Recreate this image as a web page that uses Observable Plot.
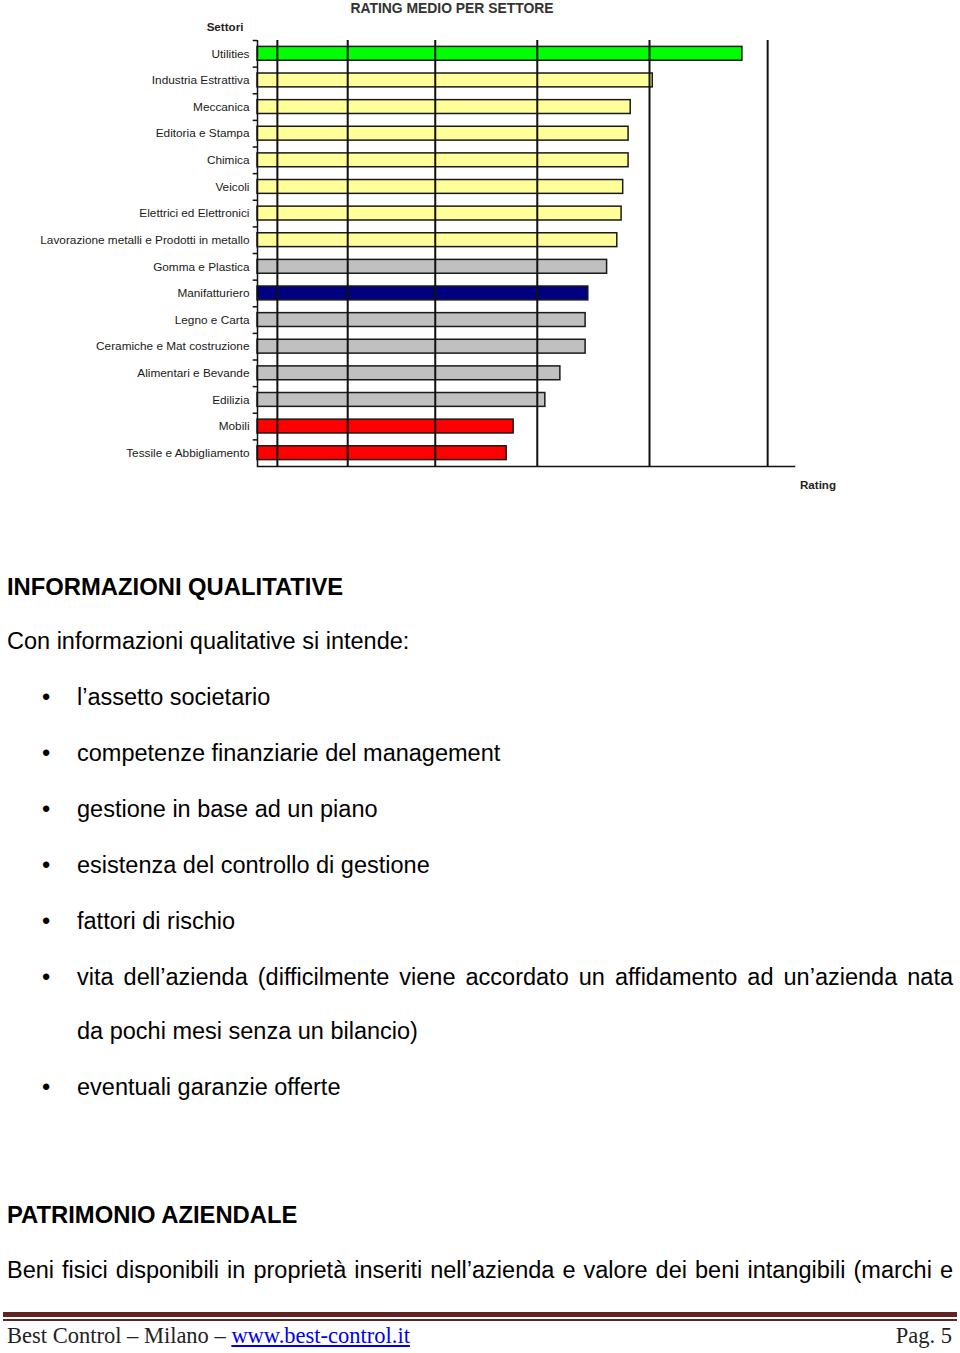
<!DOCTYPE html>
<html><head><meta charset="utf-8">
<script src="https://cdn.jsdelivr.net/npm/d3@7"></script>
<script src="https://cdn.jsdelivr.net/npm/@observablehq/plot@0.6"></script>
<style>
html,body{margin:0;padding:0;background:#fff;}
#page{position:relative;width:960px;height:1353px;overflow:hidden;font-family:"Liberation Sans",Arial,sans-serif;color:#000;}
.t{position:absolute;white-space:nowrap;line-height:1;}
.j{position:absolute;white-space:nowrap;line-height:1;text-align:justify;text-align-last:justify;}
#chart{position:absolute;left:0;top:0;}
</style></head><body><div id="page"><div id="chart"></div></div>
<script>
// ---- data ----
const settori = ["Utilities","Industria Estrattiva","Meccanica","Editoria e Stampa","Chimica","Veicoli","Elettrici ed Elettronici","Lavorazione metalli e Prodotti in metallo","Gomma e Plastica","Manifatturiero","Legno e Carta","Ceramiche e Mat costruzione","Alimentari e Bevande","Edilizia","Mobili","Tessile e Abbigliamento"];
const rating = [90.3,73.6,69.5,69.1,69.1,68.1,67.8,67.0,65.1,61.6,61.1,61.1,56.4,53.6,47.7,46.4];
const fascia = ["migliore","sopra","sopra","sopra","sopra","sopra","sopra","sopra","sotto","media","sotto","sotto","sotto","sotto","peggiore","peggiore"];
const fasce = ["migliore","sopra","media","sotto","peggiore"];
const coloriFasce = ["#00ff00","#ffff99","#000080","#c0c0c0","#ff0000"];
const griglia = [3.7,16.8,33.1,52.1,73.0,95.0];
const titolo = "RATING MEDIO PER SETTORE";
const titoloAsseY = "Settori";
const titoloAsseX = "Rating";

const data = settori.map((s,i)=>({settore:s, rating:rating[i], fascia:fascia[i]}));

const chart = Plot.plot({
  width:960, height:500,
  marginLeft:257, marginRight:166, marginTop:40, marginBottom:34,
  x:{domain:[0,100], axis:null},
  y:{domain:settori, paddingInner:0.48, paddingOuter:0.24, round:false, label:null, axis:null},
  color:{domain:fasce, range:coloriFasce},
  style:{fontFamily:"'Liberation Sans', Arial, sans-serif", fontSize:"11.8px", background:"transparent", color:"#1a1a1a"},
  marks:[
    Plot.barX(data,{x:"rating",y:"settore",fill:"fascia",stroke:"#1a1a1a",strokeWidth:1.5}),
    Plot.ruleX(griglia,{stroke:"#111",strokeWidth:2}),
    Plot.ruleX([0],{stroke:"#111",strokeWidth:1.5}),
    Plot.frame({anchor:"bottom",stroke:"#111",strokeWidth:1.5}),
    Plot.ruleY(settori,{y:d=>d, x1:-0.8, x2:0, dy:-13.3, stroke:"#111", strokeWidth:1.5}),
    Plot.axisY({tickSize:0, tickPadding:8, fontSize:11.8, fill:"#1a1a1a"})
  ]
});
document.getElementById("chart").appendChild(chart);

// ---- texts ----
const page = document.getElementById("page");
function put(text, x, baseline, fs, opts={}){
  const d = document.createElement("div");
  d.className = opts.justify ? "j" : "t";
  d.textContent = text;
  d.style.fontSize = fs+"px";
  const asc = opts.serif ? 0.891 : 0.905, desc = opts.serif ? 0.216 : 0.212;
  const top = baseline - (asc - (asc+desc-1)/2)*fs;
  d.style.top = top+"px";
  if (opts.center){ d.style.left = (x-300)+"px"; d.style.width="600px"; d.style.textAlign="center"; }
  else if (opts.right){ d.style.right = (960-x)+"px"; }
  else d.style.left = x+"px";
  if (opts.width) d.style.width = opts.width+"px";
  if (opts.bold) d.style.fontWeight = "bold";
  if (opts.color) d.style.color = opts.color;
  if (opts.serif) d.style.fontFamily = "'Liberation Serif','Times New Roman',serif";
  page.appendChild(d);
  return d;
}
put(titolo, 452, 13.5, 13.9, {center:true, bold:true, color:"#333"});
put(titoloAsseY, 225, 31, 11.6, {center:true, bold:true, color:"#222"});
put(titoloAsseX, 818, 489, 11.6, {center:true, bold:true, color:"#222"});

const FS = 23.5;
put("INFORMAZIONI QUALITATIVE", 7, 595, 23.8, {bold:true});
put("Con informazioni qualitative si intende:", 7, 650, FS);
const punti = ["l’assetto societario","competenze finanziarie del management","gestione in base ad un piano","esistenza del controllo di gestione","fattori di rischio"];
const bl = [706,762,818,874,930];
punti.forEach((p,i)=>{ put("•",42,bl[i],FS); put(p,77,bl[i],FS); });
put("•",42,986,FS);
put("vita dell’azienda (difficilmente viene accordato un affidamento ad un’azienda nata",77,986,FS,{justify:true,width:876});
put("da pochi mesi senza un bilancio)",77,1040,FS);
put("•",42,1096,FS);
put("eventuali garanzie offerte",77,1096,FS);
put("PATRIMONIO AZIENDALE", 7, 1223, 23.8, {bold:true});
put("Beni fisici disponibili in proprietà inseriti nell’azienda e valore dei beni intangibili (marchi e",7,1279,FS,{justify:true,width:946});

// footer
const l1 = document.createElement("div");
l1.style.cssText = "position:absolute;left:3px;width:954px;top:1312px;height:5px;background:#622423;";
page.appendChild(l1);
const l2 = document.createElement("div");
l2.style.cssText = "position:absolute;left:3px;width:954px;top:1319px;height:1.5px;background:#622423;";
page.appendChild(l2);
const f = put("", 7, 1344, 22.5, {serif:true, color:"#222"});
f.innerHTML = 'Best Control – Milano – <span style="color:#0000ee;text-decoration:underline">www.best-control.it</span>';
put("Pag. 5", 952, 1344, 22.5, {serif:true, right:true, color:"#222"});
</script>
</body></html>
